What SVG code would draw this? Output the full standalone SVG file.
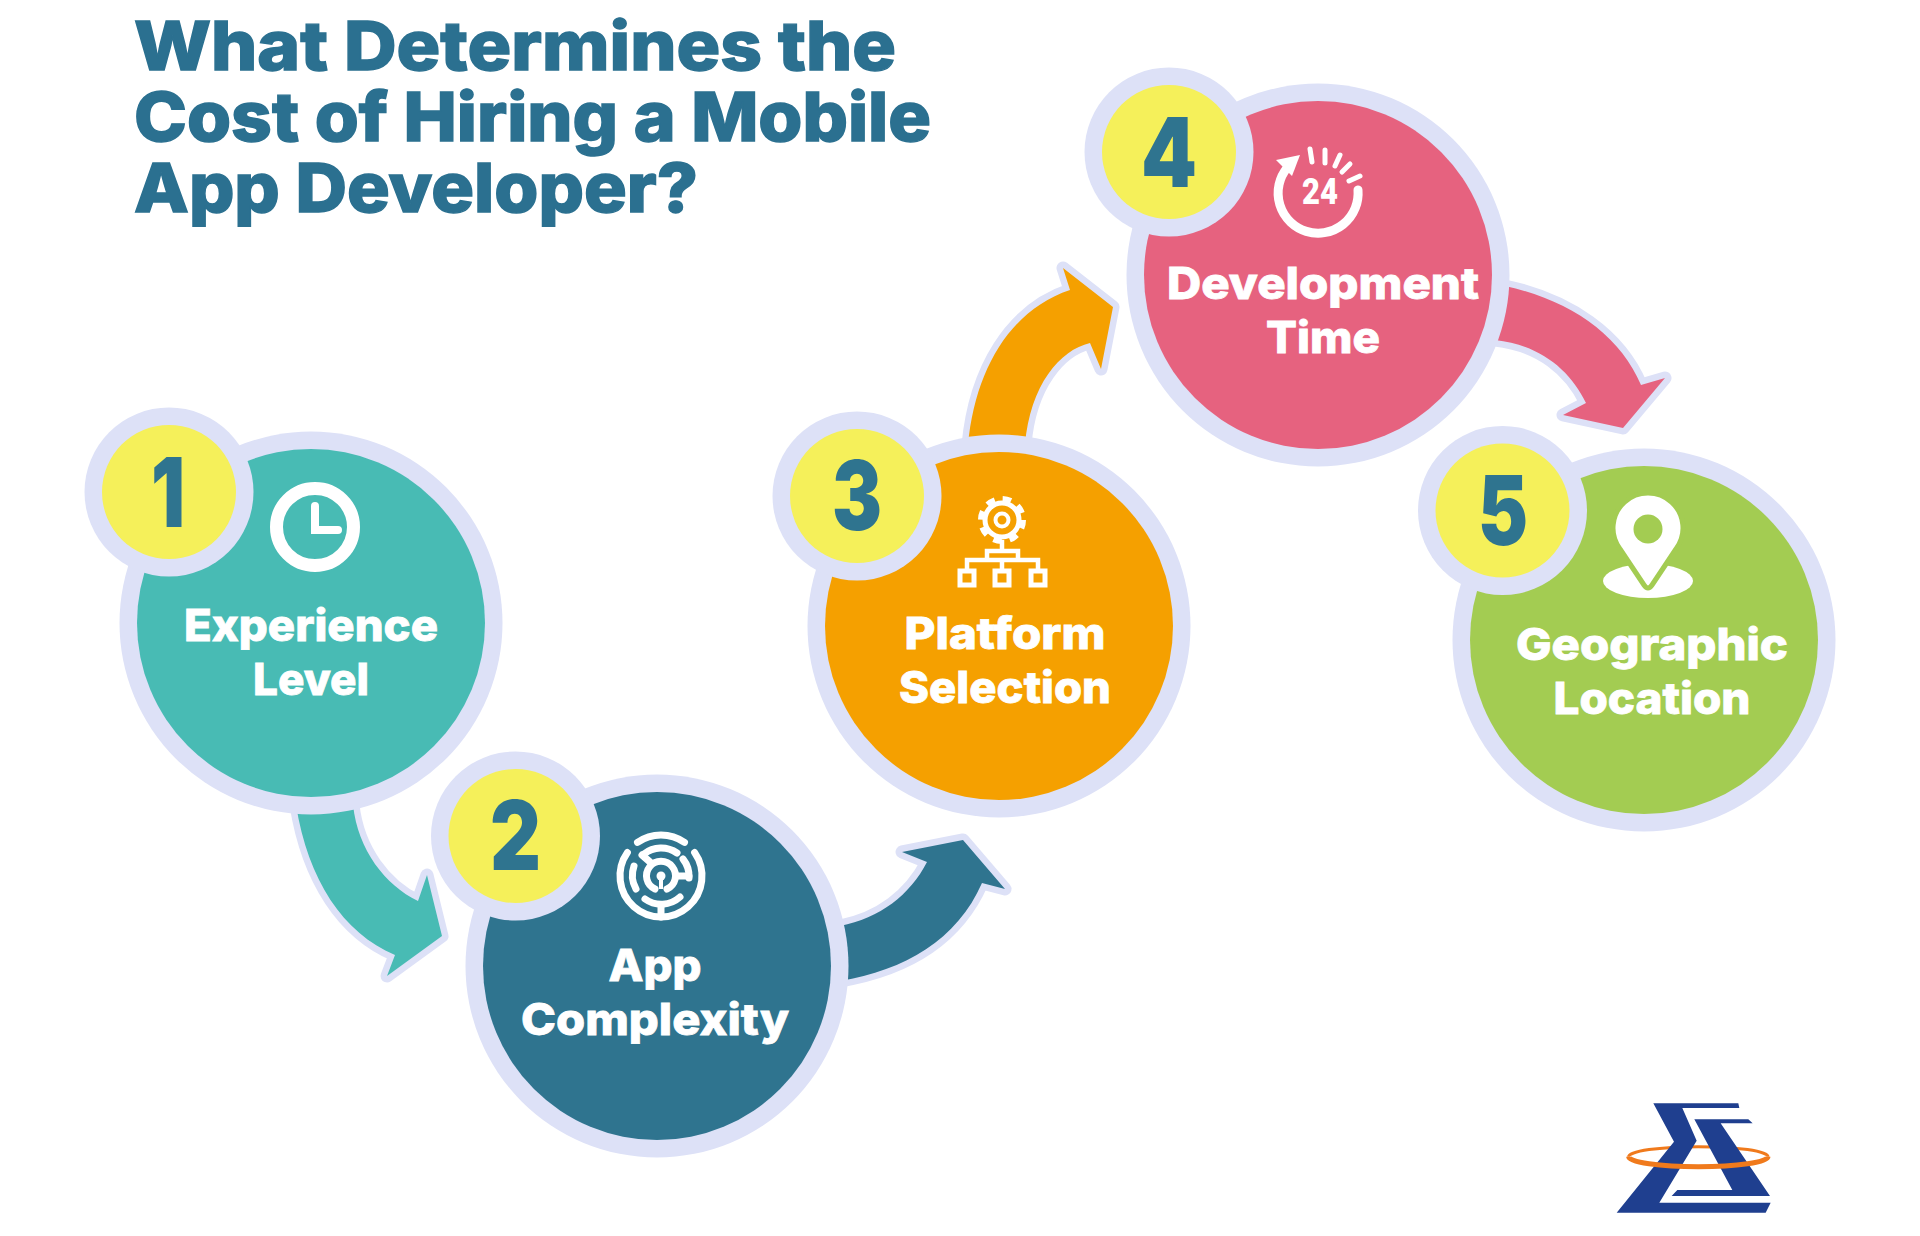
<svg xmlns="http://www.w3.org/2000/svg" width="1920" height="1236" viewBox="0 0 1920 1236">
<style>
.ring{fill:#dde1f7}
.badge{fill:#f5f05a}
.num{font-family:Inter,"Liberation Sans",sans-serif;font-weight:900;font-size:96px;fill:#2f748f;text-anchor:middle}
.lab{font-family:Inter,"Liberation Sans",sans-serif;font-weight:800;font-size:44px;fill:#fff;stroke:#fff;stroke-width:.8;text-anchor:middle}
.title{font-family:Inter,"Liberation Sans",sans-serif;font-weight:800;font-size:68px;fill:#2b7090;stroke:#2b7090;stroke-width:1.4}
.arrow{stroke:#dde1f7;stroke-width:13;stroke-linejoin:round;paint-order:stroke}
.ic{fill:none;stroke:#fff;stroke-linecap:round}
</style>
<rect width="1920" height="1236" fill="#fff"/>
<g id="title">
<text class="title" x="134" y="70" textLength="762" lengthAdjust="spacingAndGlyphs">What Determines the</text>
<text class="title" x="134" y="141" textLength="797" lengthAdjust="spacingAndGlyphs">Cost of Hiring a Mobile</text>
<text class="title" x="134" y="212" textLength="564" lengthAdjust="spacingAndGlyphs">App Developer?</text>
</g>
<g id="connectors">
<path class="arrow" fill="#48bbb4" d="M296 805C308 880 343 933 395 955L387 976L442 936L427 875L418 901C385 885 358 850 353 805Z"/>
<path class="arrow" fill="#2f748f" d="M840 981C905 970 957 940 982 883L1005 889L963 840L902 852L927 862C910 895 880 918 840 926Z"/>
<path class="arrow" fill="#f5a000" d="M968 445C975 370 1010 310 1070 290L1063 268L1113 307L1101 369L1090 343C1060 350 1030 385 1025 445Z"/>
<path class="arrow" fill="#e6627f" d="M1505 286C1570 300 1620 335 1641 385L1665 378L1623 428L1563 415L1586 403C1570 370 1540 345 1495 340Z"/>
</g>
<g id="node-1">
<circle class="ring" cx="311" cy="623" r="191.500"/>
<circle cx="311" cy="623" r="174" fill="#48bbb4"/>
<circle class="ring" cx="169" cy="492" r="84.500"/>
<circle class="badge" cx="169" cy="492" r="67"/>
<text class="num" x="168" y="527" textLength="34" lengthAdjust="spacingAndGlyphs">1</text>
<circle cx="315" cy="527" r="38.500" fill="none" stroke="#fff" stroke-width="13"/>
<path class="ic" stroke-width="8" d="M315 506V530H338"/>
<text class="lab" x="311" y="641" textLength="254" lengthAdjust="spacingAndGlyphs">Experience</text>
<text class="lab" x="311" y="695" textLength="116" lengthAdjust="spacingAndGlyphs">Level</text>
</g>
<g id="node-2">
<circle class="ring" cx="657" cy="966" r="191.500"/>
<circle cx="657" cy="966" r="174" fill="#2f748f"/>
<circle class="ring" cx="515.500" cy="836" r="84.500"/>
<circle class="badge" cx="515.500" cy="836" r="67"/>
<text class="num" x="515.500" y="870" textLength="51" lengthAdjust="spacingAndGlyphs">2</text>
<g class="ic" stroke-width="7">
<path d="M637.500 842.400A41 41 0 0 1 684.500 842.400"/>
<path d="M694.600 852.500A41 41 0 1 1 627.400 852.500"/>
<path d="M661 917V905"/>
<path d="M644 854A28 28 0 0 1 677 853"/>
<path d="M636 889A28 28 0 0 1 634 866"/>
<path d="M645 899A28 28 0 0 0 680 897"/>
<path d="M683 859A28 28 0 0 1 689 878"/>
<path d="M655 889A14.500 14.500 0 1 1 667 889"/>
<path d="M642 855L650 862M676 876H689"/>
</g>
<circle cx="661" cy="876" r="4.500" fill="#fff"/>
<path d="M661 876V889" stroke="#fff" stroke-width="4"/>
<text class="lab" x="655" y="981" textLength="93" lengthAdjust="spacingAndGlyphs">App</text>
<text class="lab" x="655" y="1035" textLength="268" lengthAdjust="spacingAndGlyphs">Complexity</text>
</g>
<g id="node-3">
<circle class="ring" cx="999" cy="626" r="191.500"/>
<circle cx="999" cy="626" r="174" fill="#f5a000"/>
<circle class="ring" cx="857" cy="496" r="84.500"/>
<circle class="badge" cx="857" cy="496" r="67"/>
<text class="num" x="857" y="530" textLength="50" lengthAdjust="spacingAndGlyphs">3</text>
<g fill="none" stroke="#fff">
<circle cx="1002" cy="520" r="17" stroke-width="5"/>
<circle cx="1002" cy="520" r="21" stroke-width="6" stroke-dasharray="8.500 8"/>
<circle cx="1002" cy="520" r="6.500" stroke-width="4"/>
<path stroke-width="4.500" d="M1002 540V550M987 551H1018V560H987ZM967 572V560H1038V572M1002 560V572"/>
<rect x="960" y="571" width="14" height="14" stroke-width="5"/>
<rect x="995" y="571" width="14" height="14" stroke-width="5"/>
<rect x="1031" y="571" width="14" height="14" stroke-width="5"/>
</g>
<text class="lab" x="1005" y="649" textLength="201" lengthAdjust="spacingAndGlyphs">Platform</text>
<text class="lab" x="1005" y="703" textLength="212" lengthAdjust="spacingAndGlyphs">Selection</text>
</g>
<g id="node-4">
<circle class="ring" cx="1318" cy="275" r="191.500"/>
<circle cx="1318" cy="275" r="174" fill="#e6627f"/>
<circle class="ring" cx="1169" cy="152" r="84.500"/>
<circle class="badge" cx="1169" cy="152" r="67"/>
<text class="num" x="1169" y="187" textLength="56" lengthAdjust="spacingAndGlyphs">4</text>
<path class="ic" stroke-width="9" stroke-linecap="butt" d="M1358 190A40 40 0 1 1 1287 168"/>
<polygon points="1276,160 1300,155 1292,176" fill="#fff"/>
<path class="ic" stroke-width="5" d="M1310 149L1312 162M1325 150L1325 163M1340 155L1335 166M1350 164L1342 172M1360 176L1349 181"/>
<text x="1320" y="204" text-anchor="middle" font-family="Roboto,'Liberation Sans',sans-serif" font-weight="900" font-size="36" fill="#fff" textLength="36" lengthAdjust="spacingAndGlyphs">24</text>
<text class="lab" x="1323" y="299" textLength="312" lengthAdjust="spacingAndGlyphs">Development</text>
<text class="lab" x="1323" y="353" textLength="114" lengthAdjust="spacingAndGlyphs">Time</text>
</g>
<g id="node-5">
<circle class="ring" cx="1644" cy="640" r="191.500"/>
<circle cx="1644" cy="640" r="174" fill="#a3cc52"/>
<circle class="ring" cx="1502.500" cy="510.500" r="84.500"/>
<circle class="badge" cx="1502.500" cy="510.500" r="67"/>
<text class="num" x="1503" y="545" textLength="50" lengthAdjust="spacingAndGlyphs">5</text>
<ellipse cx="1648" cy="581" rx="45" ry="17" fill="#fff"/>
<path fill="#fff" stroke="#a3cc52" stroke-width="5" stroke-linejoin="round" d="M1652 585Q1648 591 1644 585L1620 549A35 35 0 1 1 1676 549Z"/>
<circle cx="1648" cy="529" r="14.500" fill="#a3cc52"/>
<text class="lab" x="1652" y="660" textLength="272" lengthAdjust="spacingAndGlyphs">Geographic</text>
<text class="lab" x="1652" y="714" textLength="197" lengthAdjust="spacingAndGlyphs">Location</text>
</g>
<g id="logo" transform="translate(1600 1080) scale(.3333)">
<path d="M86 230A209 30 0 0 1 504 230" fill="none" stroke="#f07a1c" stroke-width="9"/>
<polygon fill="#1f3f8f" points="160,70 415,70 418,84 247,84 290,182 178,368 512,368 497,398 50,398 222,185"/>
<polygon fill="#1f3f8f" points="283,118 445,118 458,130 362,130 510,348 215,348 232,330 397,330"/>
<path d="M86 230A209 30 0 0 0 504 230" fill="none" stroke="#f07a1c" stroke-width="15"/>
</g>
</svg>
